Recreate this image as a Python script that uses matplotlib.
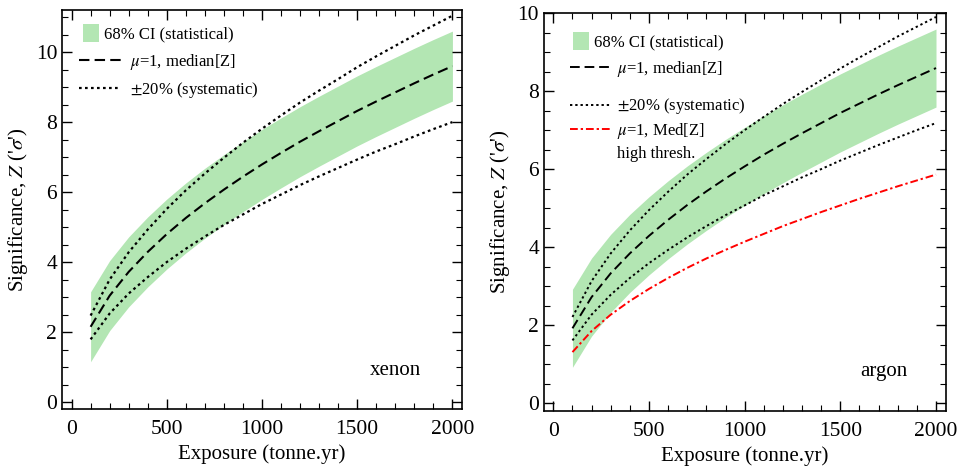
import matplotlib
matplotlib.use('Agg')
import matplotlib.pyplot as plt
from matplotlib.legend import Legend
from matplotlib.ticker import MultipleLocator

plt.rcParams['font.family'] = ['Liberation Serif', 'DejaVu Serif']
plt.rcParams['mathtext.fontset'] = 'stix'

# exposure grid (tonne.yr)
exposure = [100, 200, 300, 400, 500, 600, 700, 800, 900, 1000,
            1100, 1200, 1300, 1400, 1500, 1600, 1700, 1800, 1900, 2000]

# xenon
xe_median = [2.15, 3.04, 3.72, 4.29, 4.80, 5.26, 5.68, 6.07, 6.44, 6.79,
             7.12, 7.44, 7.74, 8.03, 8.32, 8.59, 8.85, 9.11, 9.36, 9.60]
xe_sys_hi = [2.47, 3.50, 4.28, 4.93, 5.52, 6.05, 6.53, 6.98, 7.41, 7.81,
             8.19, 8.56, 8.90, 9.23, 9.57, 9.88, 10.18, 10.48, 10.76, 11.04]
xe_sys_lo = [1.79, 2.53, 3.10, 3.57, 4.00, 4.38, 4.73, 5.06, 5.36, 5.66,
             5.93, 6.20, 6.45, 6.69, 6.93, 7.16, 7.37, 7.59, 7.80, 8.00]
xe_ci_hi = [3.15, 4.04, 4.72, 5.29, 5.80, 6.26, 6.68, 7.07, 7.44, 7.79,
            8.12, 8.44, 8.74, 9.03, 9.32, 9.59, 9.85, 10.11, 10.36, 10.60]
xe_ci_lo = [1.15, 2.04, 2.72, 3.29, 3.80, 4.26, 4.68, 5.07, 5.44, 5.79,
            6.12, 6.44, 6.74, 7.03, 7.32, 7.59, 7.85, 8.11, 8.36, 8.60]

# argon
ar_median = [1.92, 2.72, 3.33, 3.84, 4.29, 4.70, 5.08, 5.43, 5.76, 6.07,
             6.37, 6.65, 6.92, 7.18, 7.44, 7.68, 7.92, 8.15, 8.37, 8.59]
ar_sys_hi = [2.21, 3.13, 3.84, 4.43, 4.95, 5.42, 5.86, 6.26, 6.64, 7.00,
             7.34, 7.67, 7.98, 8.28, 8.58, 8.86, 9.13, 9.40, 9.65, 9.90]
ar_sys_lo = [1.61, 2.27, 2.78, 3.21, 3.59, 3.93, 4.25, 4.54, 4.82, 5.07,
             5.33, 5.56, 5.79, 6.00, 6.22, 6.42, 6.62, 6.81, 7.00, 7.18]
ar_ci_hi = [2.92, 3.72, 4.33, 4.84, 5.29, 5.70, 6.08, 6.43, 6.76, 7.07,
            7.37, 7.65, 7.92, 8.18, 8.44, 8.68, 8.92, 9.15, 9.37, 9.59]
ar_ci_lo = [0.92, 1.72, 2.33, 2.84, 3.29, 3.70, 4.08, 4.43, 4.76, 5.07,
            5.37, 5.65, 5.92, 6.18, 6.44, 6.68, 6.92, 7.15, 7.37, 7.59]
ar_high_thresh = [1.31, 1.85, 2.27, 2.62, 2.93, 3.21, 3.47, 3.71, 3.93, 4.14,
                  4.34, 4.54, 4.72, 4.90, 5.07, 5.24, 5.40, 5.56, 5.71, 5.86]

band_color = '#b3e6b3'
W, H = 959, 466

fig = plt.figure(figsize=(9.59, 4.66), dpi=100)
ax1 = fig.add_axes([0.0647, 0.1223, 0.417, 0.856])
ax2 = fig.add_axes([0.567, 0.118, 0.419, 0.854])


def StyleAxis(ax, ylim):
    ax.set_xlim(-50, 2050)
    ax.set_ylim(*ylim)
    ax.xaxis.set_major_locator(MultipleLocator(500))
    ax.xaxis.set_minor_locator(MultipleLocator(100))
    ax.yaxis.set_major_locator(MultipleLocator(2))
    ax.yaxis.set_minor_locator(MultipleLocator(0.5))
    ax.tick_params(which='both', direction='in', top=True, right=True,
                   labelsize=15.5)
    ax.tick_params(which='major', length=7, width=1.0)
    ax.tick_params(which='minor', length=4, width=0.8)
    ax.tick_params(axis='x', pad=8)
    for s in ax.spines.values():
        s.set_linewidth(1.2)
    ax.set_xlabel('Exposure (tonne.yr)', fontsize=15)
    ax.set_ylabel("Significance, $Z$ ('$\\sigma$')", fontsize=15)


def LegendAt(ax, handles, xy, spacing=0.45, textpad=0.55, patch=False):
    # legend anchored at a pixel position (top-left corner)
    if patch:
        kw = dict(handlelength=0.95, handleheight=1.3, handletextpad=0.3)
    else:
        kw = dict(handlelength=2.5, handletextpad=textpad)
    labels = [h.get_label() for h in handles]
    leg = Legend(ax, handles, labels, loc='upper left', frameon=False,
                 fontsize=12, labelspacing=spacing, borderpad=0,
                 borderaxespad=0,
                 bbox_to_anchor=(xy[0] / W, 1 - xy[1] / H),
                 bbox_transform=fig.transFigure, **kw)
    ax.add_artist(leg)
    return leg


# left: xenon
b1 = ax1.fill_between(exposure, xe_ci_lo, xe_ci_hi, color=band_color, lw=0,
                      label='68% CI (statistical)')
l1, = ax1.plot(exposure, xe_median, 'k', ls=(0, (5, 2.5)), lw=1.5,
               label='$\\mu$=1, median[Z]')
l2, = ax1.plot(exposure, xe_sys_hi, 'k', ls=(0, (1.2, 1.5)), lw=1.6,
               label='$\\pm$20% (systematic)')
ax1.plot(exposure, xe_sys_lo, 'k', ls=(0, (1.2, 1.5)), lw=1.6)
StyleAxis(ax1, (-0.2, 11.2))
ax1.text(1700, 0.9, 'xenon', fontsize=15, ha='center', va='center')
LegendAt(ax1, [b1], (83, 24), patch=True)
LegendAt(ax1, [l1, l2], (79, 52))

# right: argon
b2 = ax2.fill_between(exposure, ar_ci_lo, ar_ci_hi, color=band_color, lw=0,
                      label='68% CI (statistical)')
m1, = ax2.plot(exposure, ar_median, 'k', ls=(0, (5, 2.5)), lw=1.4,
               label='$\\mu$=1, median[Z]')
m2, = ax2.plot(exposure, ar_sys_hi, 'k', ls=(0, (1.2, 1.5)), lw=1.4,
               label='$\\pm$20% (systematic)')
ax2.plot(exposure, ar_sys_lo, 'k', ls=(0, (1.2, 1.5)), lw=1.4)
m3, = ax2.plot(exposure, ar_high_thresh, color='red',
               ls=(0, (4, 1.5, 1.2, 1.5)), lw=1.4,
               label='$\\mu$=1, Med[Z]')
StyleAxis(ax2, (-0.2, 10.0))
ax2.text(1725, 0.8, 'argon', fontsize=15, ha='center', va='center')
LegendAt(ax2, [b2], (573, 32), patch=True)
LegendAt(ax2, [m1, m2], (570, 59), spacing=1.05, textpad=0.3)
LegendAt(ax2, [m3], (570, 121), textpad=0.3)
fig.text(656 / W, 1 - 146 / H, 'high thresh.', fontsize=12,
         ha='center', va='top')

fig.savefig('out.png', dpi=100)
